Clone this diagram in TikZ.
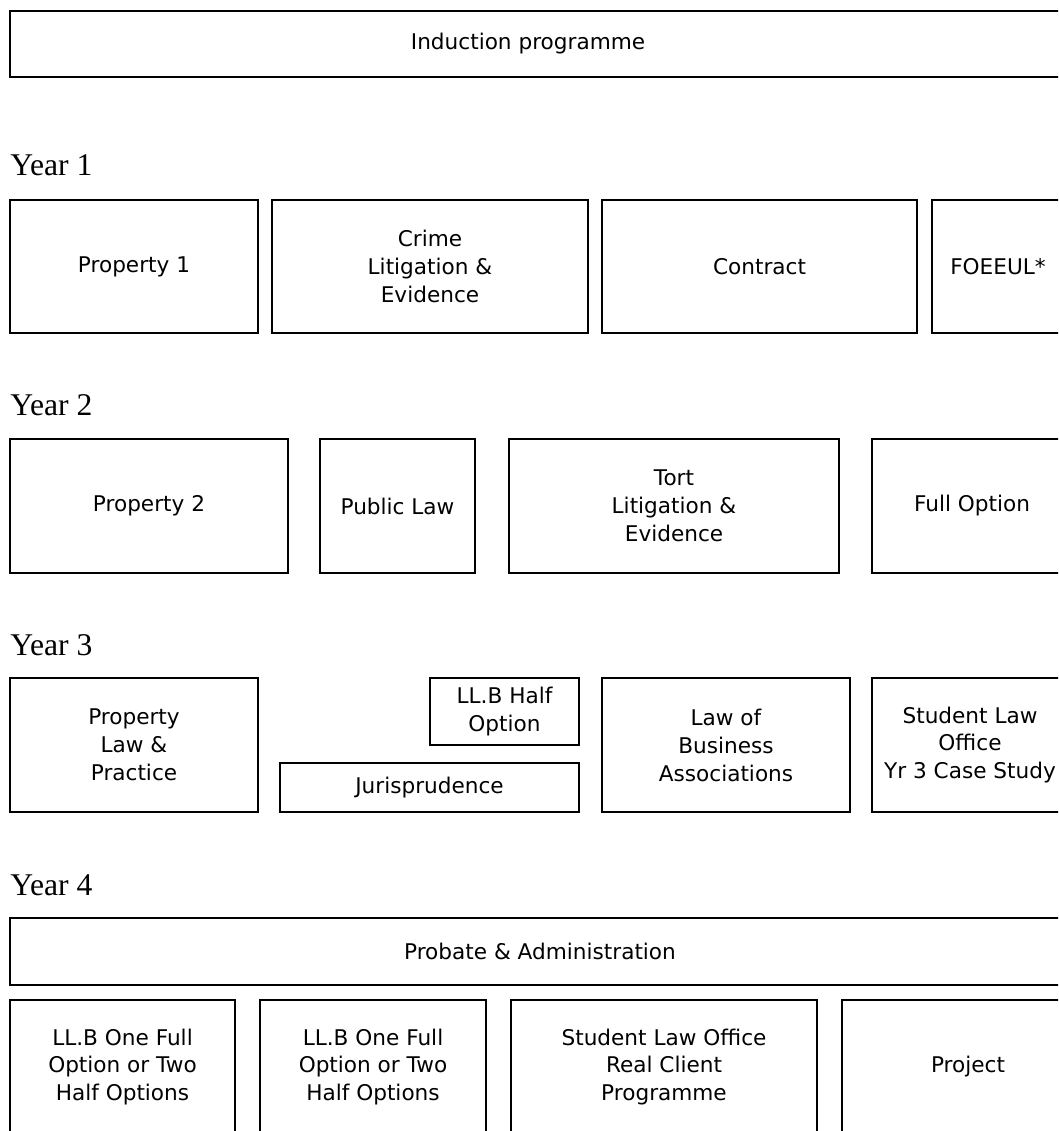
\documentclass[tikz,border=0pt]{standalone}
\usepackage{fontspec}
\setmainfont{Liberation Serif}
\newfontfamily\boxfont{DejaVu Sans}
\usepackage{tikz}
\usetikzlibrary{positioning}

\begin{document}
\begin{tikzpicture}[x=0.02cm,y=-0.02cm,
    course/.style={draw,line width=1.3pt,align=center,inner sep=0pt,
      font=\boxfont\fontsize{12.3}{15.9}\selectfont},
    yearlbl/.style={anchor=base west,inner sep=0pt,font=\fontsize{18}{20}\selectfont}]
  \useasboundingbox (0,0) rectangle (1058,1131);
  \clip (0,0) rectangle (1058,1131);
  % induction
  \node[course,minimum width=21.2cm,minimum height=1.32cm] (induct) at (540,44)
     {Induction programme\hspace*{0.48cm}};
  % year 1
  \node[yearlbl] (yr1) at (10,176) {Year 1};
  \node[course,minimum width=4.96cm,minimum height=2.66cm] (prop1) at (134,266.5) {Property 1};
  \node[course,minimum width=6.32cm,minimum height=2.66cm] (crime) at (430,266.5)
     {Crime\\Litigation \&\\Evidence};
  \node[course,minimum width=6.30cm,minimum height=2.66cm] (contract) at (759.5,266.5) {Contract};
  \node[course,minimum width=2.64cm,minimum height=2.66cm] (foeeul) at (998,266.5) {FOEEUL*};
  % year 2
  \node[yearlbl] (yr2) at (10,415) {Year 2};
  \node[course,minimum width=5.56cm,minimum height=2.68cm] (prop2) at (149,506) {Property 2};
  \node[course,minimum width=3.10cm,minimum height=2.68cm] (publaw) at (397.5,506) {Public Law};
  \node[course,minimum width=6.60cm,minimum height=2.68cm] (tort) at (674,506)
     {Tort\\Litigation \&\\Evidence};
  \node[course,minimum width=4.00cm,minimum height=2.68cm] (fullopt) at (972,506) {Full Option};
  % year 3
  \node[yearlbl] (yr3) at (10,655) {Year 3};
  \node[course,minimum width=4.96cm,minimum height=2.68cm] (proplp) at (134,745)
     {Property\\Law \&\\Practice};
  \node[course,minimum width=2.98cm,minimum height=1.34cm] (halfopt) at (504.5,711.5)
     {LL.B Half\\Option};
  \node[course,minimum width=5.98cm,minimum height=0.98cm] (juris) at (429.5,787.5) {Jurisprudence};
  \node[course,minimum width=4.96cm,minimum height=2.68cm] (lawba) at (726,745)
     {Law of\\Business\\Associations};
  \node[course,minimum width=3.92cm,minimum height=2.68cm] (slocase) at (970,745)
     {Student Law\\Office\\Yr 3 Case Study};
  % year 4
  \node[yearlbl] (yr4) at (10,895) {Year 4};
  \node[course,minimum width=21.2cm,minimum height=1.34cm] (probate) at (540,951.5)
     {Probate \& Administration};
  \node[course,minimum width=4.50cm,minimum height=2.68cm] (llba) at (122.5,1067)
     {LL.B One Full\\Option or Two\\Half Options};
  \node[course,minimum width=4.52cm,minimum height=2.68cm] (llbb) at (373,1067)
     {LL.B One Full\\Option or Two\\Half Options};
  \node[course,minimum width=6.12cm,minimum height=2.68cm] (sloreal) at (664,1067)
     {Student Law Office\\Real Client\\Programme};
  \node[course,minimum width=5.04cm,minimum height=2.68cm] (project) at (968,1067) {Project};
\end{tikzpicture}
\end{document}
